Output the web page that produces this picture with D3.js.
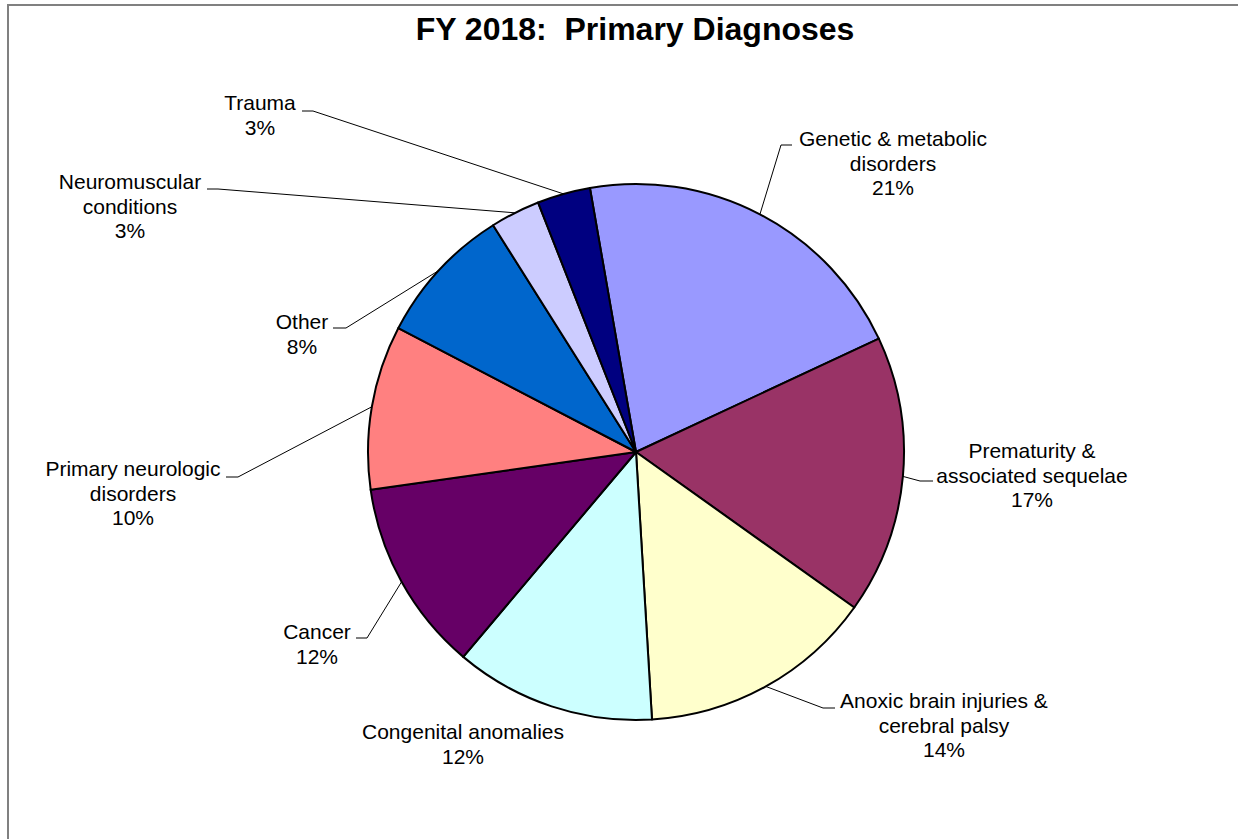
<!DOCTYPE html>
<html lang="en">
<head>
<meta charset="utf-8">
<script src="https://cdn.jsdelivr.net/npm/d3@7/dist/d3.min.js"></script>
<style type="text/css">

body {
	margin: 0;
	background-color: #ffffff;
	font-family: "Liberation Sans", Arial, sans-serif;
}

.label text {
	font-size: 21px;
	fill: #000;
}

.leader {
	fill: none;
	stroke: #000;
	stroke-width: 1;
}

</style>
</head>
<body>
<script type="text/javascript">

// Chart data (clockwise from the top)
var categories = [
	"Genetic & metabolic disorders",
	"Prematurity & associated sequelae",
	"Anoxic brain injuries & cerebral palsy",
	"Congenital anomalies",
	"Cancer",
	"Primary neurologic disorders",
	"Other",
	"Neuromuscular conditions",
	"Trauma"
];
var values = [20.8, 16.8, 14.2, 12.1, 11.6, 9.9, 8.4, 3.0, 3.2];
var colors = ["#9999FF", "#993366", "#FFFFCC", "#CCFFFF", "#660066",
	"#FF8080", "#0066CC", "#CCCCFF", "#000080"];
// how each label wraps onto lines
var labelLines = [
	["Genetic & metabolic", "disorders"],
	["Prematurity &", "associated sequelae"],
	["Anoxic brain injuries &", "cerebral palsy"],
	["Congenital anomalies"],
	["Cancer"],
	["Primary neurologic", "disorders"],
	["Other"],
	["Neuromuscular", "conditions"],
	["Trauma"]
];

var width = 1241;
var height = 839;
var cx = 636, cy = 452, radius = 268;
var startDeg = -9.9;
var lineH = 24.5;

// label layout: text centre x, first baseline y, and the elbow of the leader line
// (tick = where the short horizontal bit of the leader ends, next to the text)
var labelLayout = [
	{ x: 893, y: 146, elbow: [781, 145], tick: 792 },
	{ x: 1032, y: 458, elbow: [920, 481], tick: 933 },
	{ x: 944, y: 708, elbow: [823, 708], tick: 835 },
	{ x: 463, y: 739, elbow: null },
	{ x: 317, y: 639, elbow: [367, 638], tick: 356 },
	{ x: 133, y: 476, elbow: [238, 477], tick: 226 },
	{ x: 302, y: 329, elbow: [346, 328], tick: 333 },
	{ x: 130, y: 189, elbow: [218, 189], tick: 207 },
	{ x: 260, y: 110, elbow: [313, 111], tick: 302 }
];

var svg = d3.select("body")
	.append("svg")
	.attr("width", width)
	.attr("height", height);

// chart area frame (only top and left edges fall inside the picture)
svg.append("path")
	.attr("d", "M1238,5H8V839")
	.style("fill", "none")
	.style("stroke", "#808080")
	.style("stroke-width", 2);

// title
svg.append("text")
	.attr("x", 635)
	.attr("y", 40)
	.attr("text-anchor", "middle")
	.style("font-size", "32px")
	.style("font-weight", "bold")
	.style("white-space", "pre")
	.text("FY 2018:  Primary Diagnoses");

var total = d3.sum(values);
var data = categories.map(function(c, i) {
	return { name: c, value: values[i], color: colors[i], lines: labelLines[i], pos: labelLayout[i] };
});

var pie = d3.pie()
	.sort(null)
	.value(function(d) { return d.value; })
	.startAngle(startDeg * Math.PI / 180)
	.endAngle(startDeg * Math.PI / 180 + 2 * Math.PI);

var arc = d3.arc().innerRadius(0).outerRadius(radius);
// arc on the rim, used to find where the leader lines touch the pie
var rim = d3.arc().innerRadius(radius).outerRadius(radius);

var arcs = pie(data);

var g = svg.append("g")
	.attr("transform", "translate(" + cx + "," + cy + ")");

g.selectAll("path.slice")
	.data(arcs)
	.enter()
	.append("path")
	.attr("class", "slice")
	.attr("d", arc)
	.style("fill", function(d) { return d.data.color; })
	.style("stroke", "#000")
	.style("stroke-width", 2)
	.style("stroke-linejoin", "round");

// leader lines
svg.selectAll("path.leader")
	.data(arcs.filter(function(d) { return d.data.pos.elbow; }))
	.enter()
	.append("path")
	.attr("class", "leader")
	.attr("d", function(d) {
		var c = rim.centroid(d);
		var p = d.data.pos;
		return "M" + (cx + c[0]) + "," + (cy + c[1]) +
			"L" + p.elbow[0] + "," + p.elbow[1] +
			"L" + p.tick + "," + p.elbow[1];
	});

// labels: category lines then the percentage
var labels = svg.selectAll("g.label")
	.data(arcs)
	.enter()
	.append("g")
	.attr("class", "label");

labels.append("text")
	.attr("text-anchor", "middle")
	.each(function(d) {
		var t = d3.select(this);
		var lines = d.data.lines.concat([Math.round(d.data.value / total * 100) + "%"]);
		lines.forEach(function(s, i) {
			t.append("tspan")
				.attr("x", d.data.pos.x)
				.attr("y", d.data.pos.y + i * lineH)
				.text(s);
		});
	});

</script>
</body>
</html>
